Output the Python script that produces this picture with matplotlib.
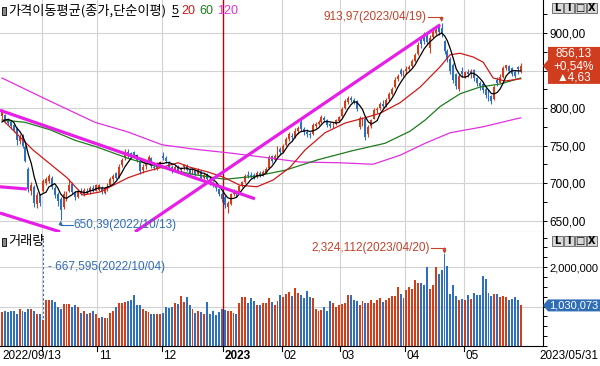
import numpy as np
import pandas as pd
import matplotlib
matplotlib.use('Agg')
import matplotlib.pyplot as plt
from matplotlib import font_manager
from matplotlib.patches import Polygon, Rectangle
from matplotlib.ticker import FuncFormatter

# ---- data (KOSDAQ daily, 2022/09/13 - 2023/05/31) ----
opens = [789, 791, 785, 781, 777, 772, 756, 763, 748, 719, 689, 695, 672, 684,
         690, 700, 703, 707, 694, 686, 679,
         668, 678, 690, 699, 687, 682, 690, 686, 690, 688, 693, 690, 691,
         694, 687, 692, 698, 705, 713, 708, 724, 733, 742, 740, 741, 737, 730, 717, 723, 727, 734, 721, 719, 726,
         736, 733, 728, 721, 717, 722, 717, 721, 723, 718, 714, 718, 712, 716, 707, 712, 706, 701, 698, 692, 686, 681, 668,
         672, 686, 690, 687, 697, 702, 711, 711, 711, 708, 713, 710, 714, 720, 736, 731, 737, 746, 742, 751, 759, 763, 762, 769,
         781, 772, 768, 766, 765, 776, 779, 781, 787, 784, 779, 777, 779, 783, 789, 800, 808, 814, 811, 809,
         775, 779, 786, 765, 776, 786, 797, 800, 806, 804, 812, 819, 828, 839, 851, 846, 849, 852, 856, 863, 872,
         893, 898, 896, 880, 895, 900, 910, 907, 889, 876, 866, 858, 845, 826, 850, 842, 848, 846,
         851, 840, 834, 832, 826, 822, 816, 812, 838, 834, 842, 853, 856, 853, 848, 855, 849]
highs = [799, 792, 787, 783, 779, 775, 765, 765, 751, 721, 701, 697, 688, 686,
         706, 708, 712, 709, 696, 688, 681,
         690, 690, 705, 701, 690, 692, 694, 693, 694, 696, 697, 699, 699,
         696, 695, 700, 708, 712, 715, 725, 733, 745, 746, 742, 743, 739, 733, 725, 727, 738, 735, 727, 728, 730,
         742, 736, 729, 724, 724, 724, 722, 726, 725, 720, 720, 719, 720, 717, 713, 714, 708, 703, 700, 694, 688, 684, 676,
         687, 692, 691, 698, 703, 712, 716, 715, 713, 716, 716, 717, 721, 738, 738, 739, 749, 748, 752, 762, 768, 767, 773, 776,
         785, 775, 772, 768, 780, 782, 784, 791, 789, 786, 782, 781, 786, 790, 801, 812, 816, 816, 814, 811,
         790, 788, 788, 778, 786, 800, 802, 808, 811, 813, 822, 828, 841, 846, 853, 851, 856, 858, 866, 874, 888,
         896, 901, 899, 897, 905, 907, 912, 913.97, 891, 879, 868, 860, 847, 846, 855, 850, 852, 852,
         852, 842, 836, 835, 829, 825, 818, 831, 841, 845, 856, 858, 858, 855, 851, 856, 860]
lows = [786, 780, 777, 772, 768, 751, 752, 747, 728, 688, 684, 668, 667, 670,
        688, 697, 700, 692, 680, 670, 650.39,
        665, 676, 688, 685, 677, 680, 684, 683, 685, 686, 688, 689, 689,
        685, 686, 690, 697, 702, 705, 707, 722, 731, 733, 733, 734, 728, 712, 714, 719, 726, 720, 717, 717, 722,
        731, 727, 718, 714, 715, 714, 714, 718, 716, 711, 712, 710, 711, 705, 705, 704, 697, 695, 690, 683, 675, 667, 660,
        671, 683, 682, 686, 695, 700, 707, 707, 705, 707, 708, 709, 713, 719, 727, 729, 735, 738, 740, 750, 756, 757, 760, 766,
        770, 764, 762, 760, 764, 774, 777, 780, 781, 775, 773, 774, 778, 781, 788, 799, 806, 808, 805, 796,
        772, 776, 757, 762, 774, 785, 793, 798, 800, 802, 810, 817, 827, 836, 843, 843, 846, 849, 855, 861, 871,
        880, 886, 885, 874, 893, 897, 897, 895, 872, 862, 845, 834, 826, 823, 842, 840, 842, 840,
        836, 829, 824, 820, 814, 810, 806, 811, 830, 833, 840, 851, 847, 843, 840, 846, 847]
closes = [795, 783, 780, 776, 771, 757, 762, 749, 730, 692, 697, 673, 684, 673,
          703, 705, 709, 695, 684, 676, 664,
          686, 688, 697, 688, 681, 690, 686, 691, 688, 694, 691, 697, 697,
          688, 693, 698, 705, 709, 707, 722, 731, 741, 736, 735, 737, 731, 716, 722, 725, 735, 723, 720, 726, 728,
          733, 729, 721, 717, 722, 716, 720, 724, 718, 713, 718, 712, 717, 707, 711, 706, 700, 698, 693, 686, 679, 671, 673,
          686, 689, 685, 696, 701, 709, 710, 709, 707, 713, 710, 715, 719, 735, 730, 736, 746, 741, 750, 759, 765, 762, 770, 774,
          772, 768, 766, 764, 777, 779, 781, 788, 784, 778, 776, 778, 784, 788, 799, 809, 813, 811, 808, 799,
          787, 786, 761, 775, 784, 797, 799, 805, 803, 811, 819, 825, 838, 843, 845, 848, 852, 855, 863, 871, 884,
          885, 890, 888, 894, 901, 904, 902, 899, 876, 866, 850, 838, 830, 843, 846, 848, 846, 850,
          840, 834, 829, 824, 818, 815, 810, 828, 833, 842, 853, 857, 850, 846, 843, 851.50, 856.13]
prior_closes = [770, 776, 782, 784]  # last 4 closes before the window, for MA5

volumes_k = [860, 880, 860, 900, 880, 820, 940, 900, 860, 940, 930, 880, 800, 820,
             667.595, 1160, 1160, 1160, 1110, 1000, 950,
             1070, 1060, 1070, 1000, 1040, 1000, 850, 880, 820, 830, 880, 800, 720,
             740, 700, 720, 840, 880, 1000, 1080, 1100, 1120, 1140, 1160, 1300, 1050, 1050, 930, 880, 870, 810, 800, 820, 800,
             850, 1000, 960, 1000, 1080, 1060, 1270, 1120, 1240, 1040, 950, 830, 900, 870, 800, 1120, 820, 900, 780, 860, 940, 920, 900,
             880, 850, 820, 1100, 1250, 1250, 1100, 1220, 1150, 1050, 1050, 1080, 1100, 1210, 1120, 1050, 1150, 1300, 1240, 1320, 1380, 1260, 1470, 1350,
             1300, 1230, 1400, 1250, 1220, 950, 880, 920, 980, 880, 1130, 1100, 1000, 1040, 1060, 1100, 1300, 1300, 1180, 1150,
             1050, 1150, 1080, 1080, 1180, 1080, 1180, 1220, 1120, 1180, 1220, 1260, 1280, 1490, 1320, 1230, 1420, 1490, 1450, 1670, 1600,
             1590, 1550, 2000, 1440, 1560, 2000, 1820, 1930, 2324.112, 2040, 1320, 1540, 1260, 1180, 1200, 1180, 1300, 1200,
             1350, 1300, 1300, 1770, 1700, 1350, 1280, 1320, 1320, 1240, 1280, 1240, 1170, 1200, 1240, 1170, 1030.073]

# moving averages (bar index, value)
ma20_idx = [0.3, 10.6, 22.2, 27.6, 33.4, 43.0, 48.8, 54.6, 60.1, 64.2, 70.0, 75.4, 81.2, 87.0, 92.5, 98.3,
            103.4, 110.2, 117.1, 123.9, 129.0, 135.8, 142.7, 149.5, 152.9, 156.3, 160.8, 164.2, 167.6, 171.7, 177]
ma20_val = [784, 744, 707, 684, 688, 707, 715, 721, 727, 721, 715, 708, 697, 695, 704, 721,
            744, 767, 780, 787, 793, 807, 828, 855, 871, 873, 868, 861, 840, 836, 839]
ma60_idx = [0, 7.8, 16.4, 24.9, 32.4, 43.7, 53.9, 65.9, 76.1, 86.3, 96.6, 107.8, 119.5, 130.7,
            139.2, 144.4, 149.5, 156.3, 163.1, 170.0, 177]
ma60_val = [784, 781, 771, 757, 748, 732, 721, 711, 705, 709, 717, 731, 743, 753,
            769, 784, 802, 819, 828, 832, 840]
ma120_idx = [0, 15.4, 31.7, 43.0, 54.6, 65.9, 77.8, 88.1, 101.7, 115.4, 126.6, 135.8, 144.4, 152.9, 164.2, 177]
ma120_val = [840, 811, 781, 768, 751, 745, 740, 735, 728, 727, 725, 737, 753, 767, 775, 787]

# trend lines drawn on the chart: (index, price) end points
trend_lines = [((-0.7, 797), (86.3, 679)),
               ((-0.7, 695), (8.5, 692)),
               ((-0.7, 660), (19.8, 635)),
               ((45.4, 635), (149.5, 911))]

holidays = ['2022-10-03', '2022-10-10', '2022-12-30', '2023-01-23', '2023-01-24',
            '2023-03-01', '2023-05-01', '2023-05-05', '2023-05-29']

# ---- setup ----
names = {f.name for f in font_manager.fontManager.ttflist}
NUM = 'Liberation Sans Narrow' if 'Liberation Sans Narrow' in names else 'Liberation Sans'
FS = 10 if NUM == 'Liberation Sans Narrow' else 8.5
KR = ['Noto Sans CJK KR', 'DejaVu Sans']
RED, BLUE = '#d43d1a', '#2e6fc0'
ANN_RED, ANN_BLUE = '#c0432c', '#2f6db5'
GRID = '#d2d2d2'

dates = pd.bdate_range('2022-09-13', '2023-05-31')
dates = dates[~dates.isin(pd.to_datetime(holidays))]

x = np.arange(len(closes))
o, h, l, c = (np.array(a, dtype=float) for a in (opens, highs, lows, closes))
vol = np.array(volumes_k) * 1000
colors = np.where(c >= o, RED, BLUE)
ma5 = pd.Series(prior_closes + closes).rolling(5).mean().to_numpy()[4:]

W, H = 600, 366
fig = plt.figure(figsize=(W / 100, H / 100), dpi=100)
ax = fig.add_axes([0, 1 - 232 / H, 543 / W, 232 / H])
axv = fig.add_axes([0, 1 - 346 / H, 543 / W, 114 / H])

month_starts = np.flatnonzero(dates.month[1:] != dates.month[:-1]) + 1

for a in (ax, axv):
    a.set_xlim(-0.68, 184.6)
    for m in month_starts:
        if dates[m].month == 1:
            a.axvline(m - 0.5, color='#c00000', lw=1, zorder=1)
        else:
            a.axvline(m - 0.5, color=GRID, lw=0.8, zorder=0)
    a.spines['top'].set_visible(False)
    a.spines['left'].set_visible(False)
    a.spines['right'].set_linewidth(0.8)
    a.tick_params(axis='x', bottom=False, labelbottom=False)
    a.yaxis.tick_right()
    a.tick_params(axis='y', which='both', direction='out', length=3, width=0.7,
                  pad=1.5, labelsize=FS, labelfontfamily=NUM)
    a.grid(axis='y', color=GRID, lw=0.8, zorder=0)
    a.set_axisbelow(True)

# price panel
ax.vlines(x, l, h, colors=colors, lw=0.8, zorder=2)
ax.bar(x, np.maximum(np.abs(c - o), 0.8), bottom=np.minimum(o, c), width=0.66,
       color=colors, lw=0, zorder=3)
ax.plot(ma120_idx, ma120_val, color='#e030e0', lw=0.9, zorder=4)
ax.plot(ma60_idx, ma60_val, color='#1e7b1e', lw=0.9, zorder=4)
ax.plot(ma20_idx, ma20_val, color='#cc1a1a', lw=0.9, zorder=4)
ax.plot(x, ma5, color='black', lw=0.9, zorder=5)
for (x0, y0), (x1, y1) in trend_lines:
    ax.plot([x0, x1], [y0, y1], color='#e61ee6', lw=2.3, solid_capstyle='butt', zorder=6)
ax.set_ylim(634.7, 944)
ax.set_yticks(np.arange(650, 901, 50))
ax.set_yticks(np.arange(650, 926, 25), minor=True)
# labels under the last-price box are hidden by it anyway
ax.yaxis.set_major_formatter(FuncFormatter(
    lambda v, p: '' if abs(v - c[-1]) < 15 else f"{v:.2f}".replace('.', ',')))
ax.spines['bottom'].set_color('#a0a0a0')

# volume panel
axv.bar(x, vol, width=0.66, color=colors, lw=0, zorder=3)
axv.set_ylim(0, 2.893e6)
axv.set_yticks([1e6, 2e6])
axv.set_yticks(np.arange(0, 2.8e6, 2.5e5), minor=True)
axv.yaxis.set_major_formatter(FuncFormatter(
    lambda v, p: '' if abs(v - vol[-1]) < 2e5 else f"{int(v):,}"))
axv.tick_params(axis='y', labelsize=FS - 0.5)

# ---- overlay in pixel coordinates ----
ov = fig.add_axes([0, 0, 1, 1], zorder=10)
ov.set_xlim(0, W)
ov.set_ylim(H, 0)
ov.axis('off')


def to_px(a, xd, yd):
    X, Y = a.transData.transform((xd, yd))
    return X, H - Y


def fmt2(v):
    return f"{v:.2f}".replace('.', ',')


# legends
for y0, label in ((7, '가격이동평균(종가,단순이평)'), (238, '거래량')):
    ov.add_patch(Rectangle((2, y0), 4, 8, facecolor='#8a8a8a', edgecolor='black', lw=0.6))
    ov.text(8, y0 + 4, label, family=KR, fontsize=9.5, va='center', ha='left')
for xp, txt, col in ((172, '5', 'black'), (181, '20', '#cc1a1a'), (199, '60', '#1e7b1e'), (217, '120', '#e030e0')):
    ov.text(xp, 11, txt, family=NUM, fontsize=FS + 0.5, color=col, va='center', ha='left')
ov.plot([172, 178], [16, 16], color='black', lw=0.8)

# window buttons
for yb in (3, 236):
    for k, g in enumerate(['L', 'I', '□', 'X']):
        xb = 552 + k * 11.5
        ov.add_patch(Rectangle((xb, yb), 10.5, 10, facecolor='#d8d8d8', edgecolor='#606060', lw=0.6))
        ov.text(xb + 5.25, yb + 5.2, g, ha='center', va='center', fontsize=7,
                fontweight='bold', family=['DejaVu Sans'])

# high / low annotations
hi = int(np.argmax(h))
hx, hy = to_px(ax, hi, h[hi])
ov.text(hx - 15, 17, f"{fmt2(h[hi])}({dates[hi]:%Y/%m/%d})", ha='right', va='center',
        color=ANN_RED, fontsize=FS, family=NUM)
ov.plot([hx - 14, hx], [17, 17], color=ANN_RED, lw=0.8)
ov.annotate('', xy=(hx, hy - 0.5), xytext=(hx, 17),
            arrowprops=dict(arrowstyle='-|>', color=ANN_RED, lw=0.8, mutation_scale=5,
                            shrinkA=0, shrinkB=0))

lo = int(np.argmin(l))
lx, ly = to_px(ax, lo, l[lo])
ov.plot([lx, lx + 12], [ly + 5, ly + 5], color=ANN_BLUE, lw=0.8)
ov.annotate('', xy=(lx, ly + 0.5), xytext=(lx, ly + 5),
            arrowprops=dict(arrowstyle='-|>', color=ANN_BLUE, lw=0.8, mutation_scale=5,
                            shrinkA=0, shrinkB=0))
ov.text(lx + 13, ly + 5, f"{fmt2(l[lo])}({dates[lo]:%Y/%m/%d})", ha='left', va='center',
        color=ANN_BLUE, fontsize=FS, family=NUM)

vi = int(np.argmax(vol))
vx, vy = to_px(axv, vi, vol[vi])
ov.text(vx - 15, 248, f"{int(round(vol[vi])):,}({dates[vi]:%Y/%m/%d})", ha='right', va='center',
        color=ANN_RED, fontsize=FS, family=NUM)
ov.plot([vx - 14, vx], [248, 248], color=ANN_RED, lw=0.8)
ov.annotate('', xy=(vx, vy - 0.5), xytext=(vx, 248),
            arrowprops=dict(arrowstyle='-|>', color=ANN_RED, lw=0.8, mutation_scale=5,
                            shrinkA=0, shrinkB=0))

mi = int(np.argmin(vol))
mx, my = to_px(axv, mi, vol[mi])
ov.plot([mx, mx], [240, my], color=ANN_BLUE, lw=0.8, ls=(0, (2, 2)))
ov.text(mx + 5, 267, f"- {int(round(vol[mi])):,}({dates[mi]:%Y/%m/%d})", ha='left', va='center',
        color=ANN_BLUE, fontsize=FS, family=NUM)

# last price box
_, cy = to_px(ax, x[-1], c[-1])
ov.add_patch(Polygon([(543, cy), (548, cy - 6), (548, cy - 19), (600, cy - 19),
                      (600, cy + 18), (548, cy + 18), (548, cy + 6)],
                     closed=True, facecolor='#cf3d1e', edgecolor='none'))
chg = c[-1] - c[-2]
pct = chg / c[-2] * 100
for dy, txt in ((-12, fmt2(c[-1])), (0.5, f"+{fmt2(pct)}%"), (11.5, f"▲{fmt2(chg)}")):
    ov.text(574, cy + dy, txt, ha='center', va='center', color='white', fontsize=FS,
            family=[NUM, 'DejaVu Sans'])

# last volume box
_, vyl = to_px(axv, x[-1], vol[-1])
ov.add_patch(Polygon([(543, vyl), (548, vyl - 6), (600, vyl - 6), (600, vyl + 6), (548, vyl + 6)],
                     closed=True, facecolor='#2f6db5', edgecolor='none'))
ov.text(574, vyl, f"{int(round(vol[-1])):,}", ha='center', va='center', color='white',
        fontsize=FS - 0.5, family=NUM)

# date axis
ov.text(2, 356, f"{dates[0]:%Y/%m/%d}", ha='left', va='center', fontsize=FS, family=NUM)
for m in month_starts:
    gx, _ = to_px(axv, m - 0.5, 0)
    ov.plot([gx, gx], [346, 351], color='black', lw=0.8)
    if gx < 70:
        continue
    if dates[m].month == 1:
        ov.text(gx + 1.5, 356, str(dates[m].year), ha='left', va='center', fontsize=FS,
                family=NUM, fontweight='bold')
    else:
        ov.text(gx + 1.5, 356, f"{dates[m].month:02d}", ha='left', va='center', fontsize=FS, family=NUM)
ov.text(598, 356, f"{dates[-1]:%Y/%m/%d}", ha='right', va='center', fontsize=FS, family=NUM)

fig.savefig('out.png', dpi=100, facecolor='white')
